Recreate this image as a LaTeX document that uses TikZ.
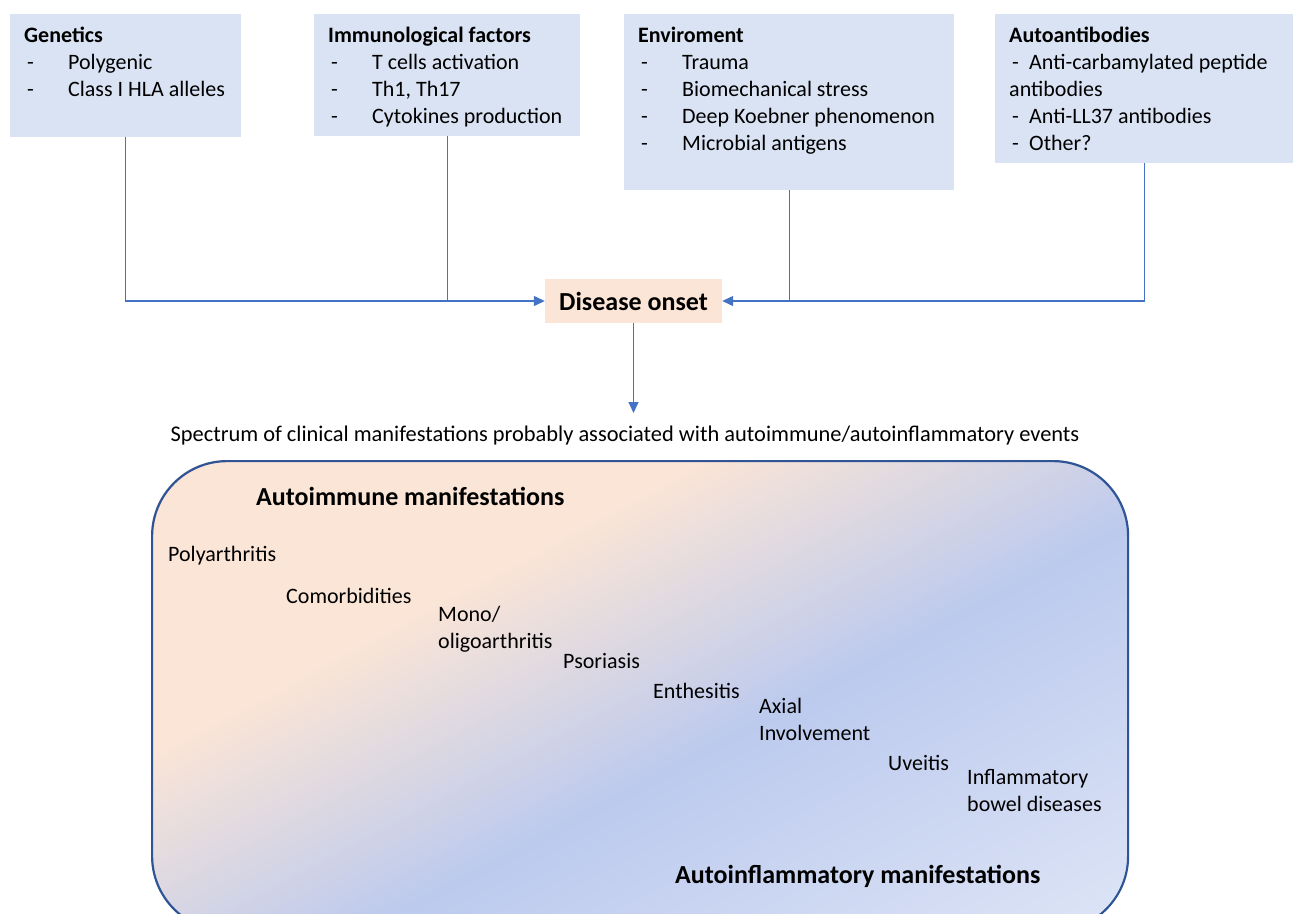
\documentclass[tikz,border=0pt]{standalone}
\usepackage{fontspec}
\setmainfont{Carlito}
\usetikzlibrary{arrows.meta}
\definecolor{boxblue}{HTML}{DAE3F3}
\definecolor{peach}{HTML}{FBE5D6}
\definecolor{lineblue}{HTML}{4472C4}
\definecolor{borderblue}{HTML}{2F5597}
\definecolor{bandblue}{HTML}{BCCAEE}
\definecolor{paleblue}{HTML}{DEE5F6}
\pgfdeclarehorizontalshading{specshade}{100bp}{color(0bp)=(peach); color(41bp)=(peach); color(54bp)=(bandblue); color(72bp)=(paleblue); color(100bp)=(paleblue)}
\newcommand\itm[1]{\hspace*{3pt}\makebox[41pt][l]{-}#1}
\newcommand\aitm[1]{\hspace*{3pt}\makebox[17pt][l]{-}#1}
\begin{document}
\begin{tikzpicture}[x=1pt,y=-1pt,
  fbox/.style={fill=boxblue, anchor=north west, inner sep=0pt},
  btext/.style={anchor=north west, inner sep=0pt, align=left, font=\fontsize{22}{27}\selectfont},
  mtext/.style={anchor=north west, inner sep=0pt, align=left, font=\fontsize{22}{27}\selectfont},
  cline/.style={draw=lineblue, line width=1.3pt},
  conn/.style={cline, -{Triangle[length=11pt,width=10pt]}}]
\useasboundingbox (0,0) rectangle (1293,913);

% top boxes
\node[fbox, minimum width=231pt, minimum height=123pt] (gen) at (10,14) {};
\node[fbox, minimum width=266pt, minimum height=122pt] (imm) at (314,14) {};
\node[fbox, minimum width=330pt, minimum height=176pt] (env) at (624,14) {};
\node[fbox, minimum width=298pt, minimum height=149pt] (aut) at (995,14) {};

\node[btext] (gent) at (24,27) {\textbf{Genetics}\\ \itm{Polygenic}\\ \itm{Class I HLA alleles}};
\node[btext] (immt) at (328,27) {\textbf{Immunological factors}\\ \itm{T cells activation}\\ \itm{Th1, Th17}\\ \itm{Cytokines production}};
\node[btext] (envt) at (638,27) {\textbf{Enviroment}\\ \itm{Trauma}\\ \itm{Biomechanical stress}\\ \itm{Deep Koebner phenomenon}\\ \itm{Microbial antigens}};
\node[btext] (autt) at (1009,27) {\textbf{Autoantibodies}\\ \aitm{Anti-carbamylated peptide}\\ antibodies\\ \aitm{Anti-LL37 antibodies}\\ \aitm{Other?}};

% disease onset
\node[fill=peach, minimum width=177pt, minimum height=44pt, inner sep=0pt, font=\fontsize{26}{30}\selectfont\bfseries] (dis) at (633.5,301) {Disease onset};

% connectors
\draw[conn] (gen.south) |- (dis.west);
\draw[cline] (imm.south) -- (imm.south |- dis.west);
\draw[conn] (env.south) |- (dis.east);
\coordinate (envjoin) at (env.south |- dis.east);
\draw[cline] (aut.south) |- (envjoin);
\coordinate (spectip) at (dis.south |- 0,413);
\draw[conn] (dis.south) -- (spectip);

\node[font=\fontsize{22.4}{27}\selectfont, inner sep=0pt] (spectitle) at (625,436) {Spectrum of clinical manifestations probably associated with autoimmune/autoinflammatory events};

% spectrum box
\begin{scope}
  \clip[rounded corners=75pt] (151,460) rectangle (1127,930);
  \shade[shading=specshade, shading angle=-62] (139,195) rectangle (1139,1195);
\end{scope}
\node[draw=borderblue, line width=2.2pt, rounded corners=75pt, minimum width=976pt, minimum height=470pt, anchor=north west, inner sep=0pt] (specbox) at (151,460) {};

\node[mtext, font=\fontsize{26}{30}\selectfont\bfseries] (autoimm) at (256,487) {Autoimmune manifestations};
\node[mtext] (polya) at (168,546) {Polyarthritis};
\node[mtext] (comorb) at (286,588) {Comorbidities};
\node[mtext] (mono) at (438,606) {Mono/\\oligoarthritis};
\node[mtext] (psor) at (563,653) {Psoriasis};
\node[mtext] (enth) at (653,683) {Enthesitis};
\node[mtext] (axial) at (759,698) {Axial\\Involvement};
\node[mtext] (uve) at (888,755) {Uveitis};
\node[mtext] (ibd) at (967,769) {Inflammatory\\bowel diseases};
\node[mtext, font=\fontsize{26}{30}\selectfont\bfseries] (autoinf) at (675,865) {Autoinflammatory manifestations};
\end{tikzpicture}
\end{document}
